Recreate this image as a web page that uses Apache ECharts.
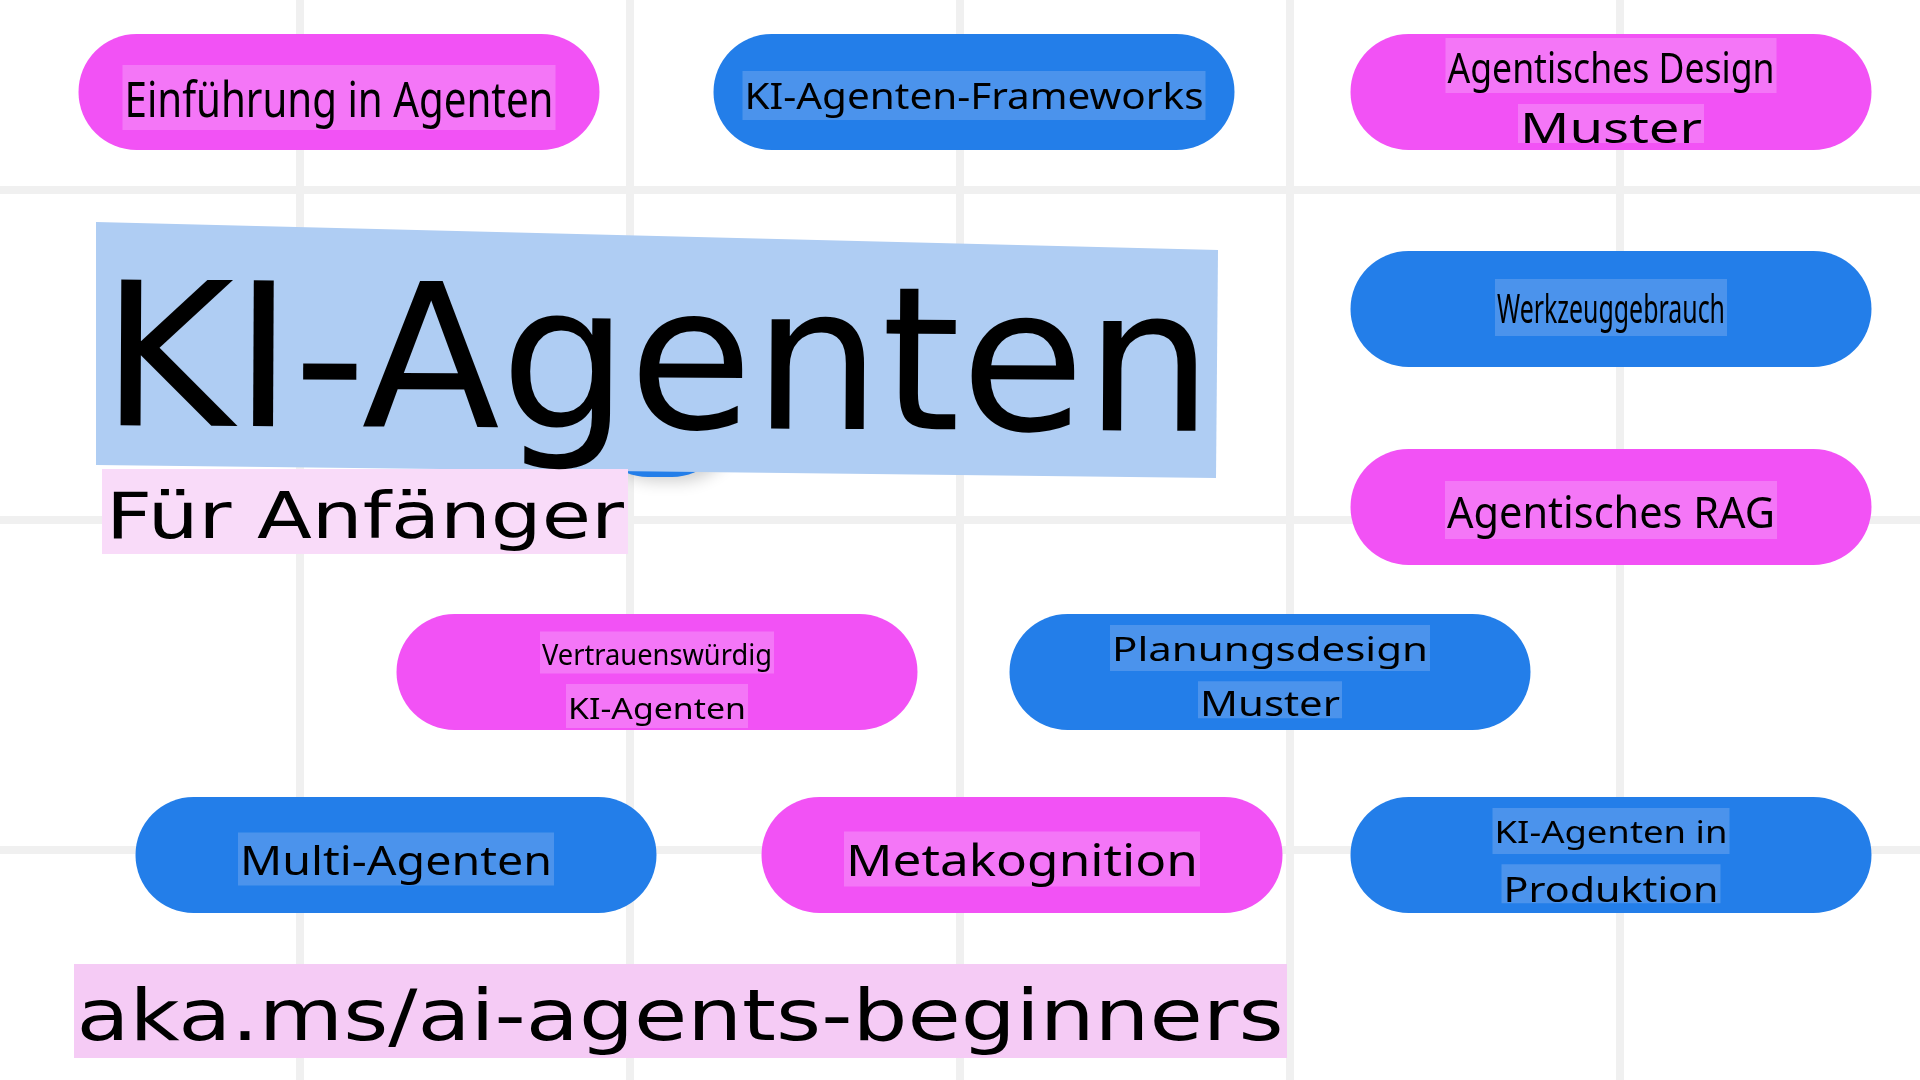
<!DOCTYPE html>
<html>
<head>
<meta charset="utf-8">
<title>KI-Agenten für Anfänger</title>
<script src="https://cdn.jsdelivr.net/npm/echarts@6/dist/echarts.min.js"></script>
<style>
  html, body { margin: 0; padding: 0; background: #fff; }
  #chart { width: 1920px; height: 1080px; }
</style>
</head>
<body>
<div id="chart"></div>
<script>
// lesson tiles: label, centre (axis units) and colour group
const pillLabels = [
  '',
  'Einführung in Agenten',
  'KI-Agenten-Frameworks',
  'Agentisches Design\nMuster',
  'Werkzeuggebrauch',
  'Agentisches RAG',
  'Vertrauenswürdig\nKI-Agenten',
  'Planungsdesign\nMuster',
  'Multi-Agenten',
  'Metakognition',
  'KI-Agenten in\nProduktion'
];
const pillX = [690, 369, 1004, 1641, 1641, 1641, 687, 1300, 426, 1052, 1641];
const pillY = [559, 232, 232, 232, 449, 647, 812, 812, 995, 995, 995];
const pillTone = ['blue', 'pink', 'blue', 'pink', 'blue', 'pink', 'pink', 'blue', 'blue', 'pink', 'blue'];

const titleText = 'KI-Agenten';
const subtitleText = 'Für Anfänger';
const linkText = 'aka.ms/ai-agents-beginners';

// background grid ticks (axis units)
const gridStep = 330;
const xMax = 1980;
const yMax = 1320;

// ---- styling / layout (not data) ----
const TONES = {
  pink: { fill: '#f252f5', textBg: '#f476f7' },
  blue: { fill: '#237ee9', textBg: '#4b93ec' }
};
const PILL_W = 521;
const PILL_H = 116;
const HIDDEN_W = 140;   // the tile tucked behind the title only shows its rounded end
const FONT = 'Noto Sans';
// per line: [highlight width, highlight height, highlight offset from centre, font size, baseline below highlight centre]
const pillLines = [
  [],
  [[433, 65, 5.5, 49, 19.5]],
  [[463, 49, 3.5, 36.4, 13.8]],
  [[331, 55, -26.5, 41, 17], [186, 39, 31.5, 41, 19]],
  [[232, 57, -1.5, 39.7, 15.8]],
  [[332, 58, 3, 44, 18.3]],
  [[234, 42, -19.5, 29.4, 12.5], [182, 44, 34, 29.4, 13.3]],
  [[320, 46, -24, 32.7, 12.7], [144, 37, 27.7, 34, 16.3]],
  [[316, 53, 4, 39.7, 16]],
  [[356, 55, 4, 43, 16.7]],
  [[237, 46, -24, 30.3, 12.3], [219, 39, 28.7, 34, 18]]
];

const measureCtx = document.createElement('canvas').getContext('2d');
function setFont(size, family) {
  measureCtx.font = size + 'px "' + family + '"';
}
function fitScale(text, size, family, target) {
  setFont(size, family);
  measureCtx.textBaseline = 'alphabetic';
  return target / measureCtx.measureText(text).width;
}
// how far the alphabetic baseline sits below a 'middle' anchored line
function baselineShift(size, family) {
  setFont(size, family);
  measureCtx.textBaseline = 'alphabetic';
  const a = measureCtx.measureText('H').actualBoundingBoxAscent;
  measureCtx.textBaseline = 'middle';
  const m = measureCtx.measureText('H').actualBoundingBoxAscent;
  measureCtx.textBaseline = 'alphabetic';
  return a - m;
}

const chart = echarts.init(document.getElementById('chart'), null, { renderer: 'canvas' });

function renderPill(params, api) {
  const i = params.dataIndex;
  const p = api.coord([api.value(0), api.value(1)]);
  const cx = p[0], cy = p[1];
  const tone = TONES[pillTone[i]];
  const width = i === 0 ? HIDDEN_W : PILL_W;
  const pillStyle = { fill: tone.fill };
  if (i === 0) {
    Object.assign(pillStyle, {
      shadowBlur: 16,
      shadowColor: 'rgba(0,0,0,0.2)',
      shadowOffsetX: 8,
      shadowOffsetY: 4
    });
  }
  const children = [{
    type: 'rect',
    shape: { x: cx - width / 2, y: cy - PILL_H / 2, width: width, height: PILL_H, r: PILL_H / 2 },
    style: pillStyle
  }];
  const lines = pillLabels[i] ? pillLabels[i].split('\n') : [];
  lines.forEach((line, k) => {
    const [w, h, dy, size, base] = pillLines[i][k];
    const mid = cy + dy;
    children.push({
      type: 'rect',
      shape: { x: cx - w / 2, y: mid - h / 2, width: w, height: h },
      style: { fill: tone.textBg }
    });
    children.push({
      type: 'text',
      x: cx,
      y: mid + base - baselineShift(size, FONT),
      scaleX: fitScale(line, size, FONT, w - 4),
      style: {
        text: line,
        fontSize: size,
        fontFamily: FONT,
        fill: '#000',
        align: 'center',
        verticalAlign: 'middle'
      }
    });
  });
  return { type: 'group', children };
}

function bannerText(text, x, baseline, size, width) {
  return {
    type: 'text', z: 101, silent: true,
    x: x, y: baseline - baselineShift(size, 'DejaVu Sans'),
    scaleX: fitScale(text, size, 'DejaVu Sans', width),
    style: {
      text: text, fontSize: size, fontFamily: 'DejaVu Sans',
      fill: '#000', align: 'center', verticalAlign: 'middle'
    }
  };
}

const hiddenAxis = {
  axisLine: { show: false },
  axisTick: { show: false },
  axisLabel: { show: false },
  splitLine: { show: true, lineStyle: { color: '#f0f0f0', width: 8 } }
};

const titleLabel = bannerText(titleText, 657, 428, 200, 1112);
titleLabel.rotation = -0.005;

chart.setOption({
  animation: false,
  backgroundColor: '#ffffff',
  grid: { left: -30, top: -140, width: xMax, height: yMax, outerBoundsMode: 'none' },
  xAxis: Object.assign({ type: 'value', min: 0, max: xMax, interval: gridStep }, hiddenAxis),
  yAxis: Object.assign({ type: 'value', min: 0, max: yMax, interval: gridStep, inverse: true }, hiddenAxis),
  series: [{
    type: 'custom',
    silent: true,
    clip: false,
    renderItem: renderPill,
    data: pillX.map((x, i) => [x, pillY[i]])
  }],
  graphic: [
    {
      type: 'polygon', z: 100, silent: true,
      shape: { points: [[96, 222], [1218, 250], [1216, 478], [96, 465]] },
      style: { fill: '#afcdf3' }
    },
    titleLabel,
    {
      type: 'rect', z: 100, silent: true,
      shape: { x: 102, y: 469, width: 526, height: 85 },
      style: { fill: '#f9dbf9' }
    },
    bannerText(subtitleText, 365, 538, 64, 518),
    {
      type: 'rect', z: 100, silent: true,
      shape: { x: 74, y: 964, width: 1213, height: 94 },
      style: { fill: '#f5cbf5' }
    },
    bannerText(linkText, 680, 1040, 72, 1207)
  ]
});
</script>
</body>
</html>
